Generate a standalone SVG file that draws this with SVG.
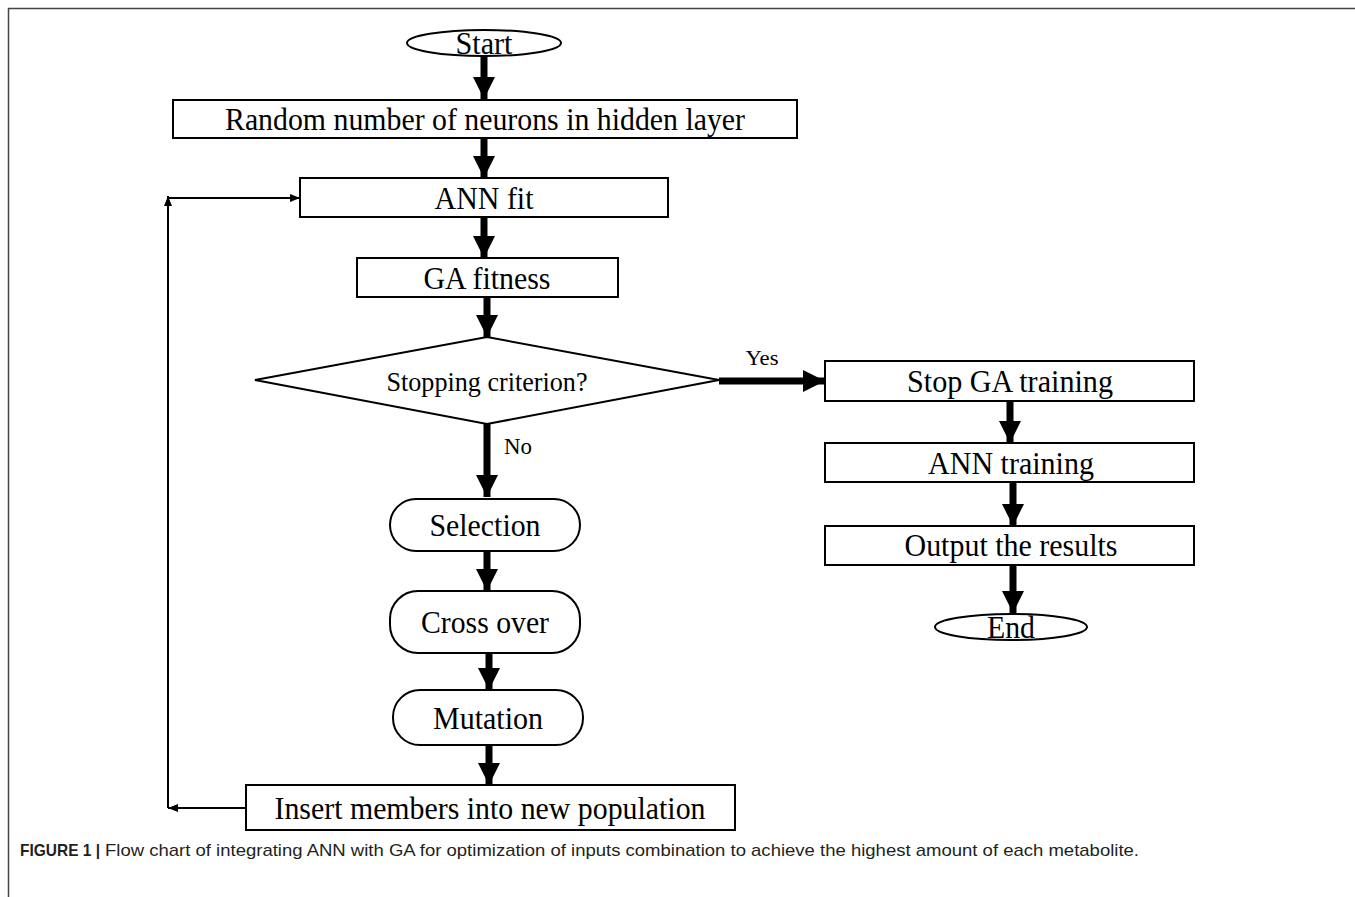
<svg xmlns="http://www.w3.org/2000/svg" width="1355" height="897" viewBox="0 0 1355 897">
<style>
.box{fill:#fff;stroke:#000;stroke-width:2}
.t{font-family:"Liberation Serif","Times New Roman",serif;font-size:32px;fill:#000;text-anchor:middle}
.lbl{font-family:"Liberation Serif","Times New Roman",serif;fill:#000;text-anchor:middle}
.thick{stroke:#000;stroke-width:7;fill:none}
.thin{stroke:#000;stroke-width:2;fill:none}
.cap{font-family:"Liberation Sans",Arial,sans-serif;font-size:17px;fill:#231f20}
</style>
<defs>
<marker id="big" viewBox="0 0 22 22" refX="22" refY="11" markerWidth="22" markerHeight="22" markerUnits="userSpaceOnUse" orient="auto">
<path d="M0,0 L22,11 L0,22 z" fill="#000"/>
</marker>
<marker id="small" viewBox="0 0 10 8" refX="10" refY="4" markerWidth="10" markerHeight="8" markerUnits="userSpaceOnUse" orient="auto">
<path d="M0,0 L10,4 L0,8 z" fill="#000"/>
</marker>
</defs>
<rect width="1355" height="897" fill="#fff"/>
<path d="M8.5,897 V8.5 H1355" fill="none" stroke="#444" stroke-width="1.5"/>

<g id="start"><ellipse class="box" cx="484" cy="43" rx="77" ry="13"/><text class="t" x="484" y="54" textLength="57" lengthAdjust="spacingAndGlyphs">Start</text></g>
<g id="random"><rect class="box" x="173" y="100" width="624" height="38"/><text class="t" x="485" y="130" textLength="520" lengthAdjust="spacingAndGlyphs">Random number of neurons in hidden layer</text></g>
<g id="annfit"><rect class="box" x="300" y="178" width="368" height="39"/><text class="t" x="484" y="209" textLength="99" lengthAdjust="spacingAndGlyphs">ANN fit</text></g>
<g id="gafitness"><rect class="box" x="357" y="258" width="261" height="39"/><text class="t" x="487" y="289" textLength="127" lengthAdjust="spacingAndGlyphs">GA fitness</text></g>
<g id="stopping"><polygon class="box" points="255,380 487,337 719,380 487,424"/><text class="lbl" x="487" y="391" font-size="28" textLength="201" lengthAdjust="spacingAndGlyphs">Stopping criterion?</text></g>
<g id="stopga"><rect class="box" x="825" y="361" width="369" height="40"/><text class="t" x="1010" y="392" textLength="206" lengthAdjust="spacingAndGlyphs">Stop GA training</text></g>
<g id="anntraining"><rect class="box" x="825" y="443" width="369" height="39"/><text class="t" x="1011" y="474" textLength="166" lengthAdjust="spacingAndGlyphs">ANN training</text></g>
<g id="output"><rect class="box" x="825" y="526" width="369" height="39"/><text class="t" x="1011" y="556" textLength="213" lengthAdjust="spacingAndGlyphs">Output the results</text></g>
<g id="end"><ellipse class="box" cx="1011" cy="627" rx="76" ry="13"/><text class="t" x="1011" y="638" textLength="48" lengthAdjust="spacingAndGlyphs">End</text></g>
<g id="selection"><rect class="box" x="390" y="499" width="190" height="52" rx="26" ry="26"/><text class="t" x="485" y="536" textLength="111" lengthAdjust="spacingAndGlyphs">Selection</text></g>
<g id="crossover"><rect class="box" x="390" y="591" width="190" height="62" rx="28" ry="28"/><text class="t" x="485" y="633" textLength="128" lengthAdjust="spacingAndGlyphs">Cross over</text></g>
<g id="mutation"><rect class="box" x="393" y="690" width="190" height="55" rx="27" ry="27"/><text class="t" x="488" y="729" textLength="110" lengthAdjust="spacingAndGlyphs">Mutation</text></g>
<g id="insert"><rect class="box" x="246" y="785" width="489" height="45"/><text class="t" x="490" y="819" textLength="431" lengthAdjust="spacingAndGlyphs">Insert members into new population</text></g>

<g id="connectors">
<path class="thick" d="M484,56 V99" marker-end="url(#big)"/>
<path class="thick" d="M484,138 V178" marker-end="url(#big)"/>
<path class="thick" d="M484,217 V258" marker-end="url(#big)"/>
<path class="thick" d="M487,297 V337" marker-end="url(#big)"/>
<path class="thick" d="M719,381 H825" marker-end="url(#big)"/>
<path class="thick" d="M487,424 V497" marker-end="url(#big)"/>
<path class="thick" d="M487,551 V591" marker-end="url(#big)"/>
<path class="thick" d="M489,653 V690" marker-end="url(#big)"/>
<path class="thick" d="M489,745 V785" marker-end="url(#big)"/>
<path class="thick" d="M1010,401 V443" marker-end="url(#big)"/>
<path class="thick" d="M1013,482 V526" marker-end="url(#big)"/>
<path class="thick" d="M1013,565 V613" marker-end="url(#big)"/>
<path class="thin" d="M246,808 H168" marker-end="url(#small)"/>
<path class="thin" d="M168,808 V196" marker-end="url(#small)"/>
<path class="thin" d="M168,198 H300" marker-end="url(#small)"/>
<text class="lbl" x="762" y="365" font-size="22" textLength="33" lengthAdjust="spacingAndGlyphs">Yes</text>
<text class="lbl" x="518" y="454" font-size="23" textLength="28" lengthAdjust="spacingAndGlyphs">No</text>
</g>

<text class="cap" x="20" y="856" font-weight="bold" textLength="80" lengthAdjust="spacingAndGlyphs">FIGURE 1 |</text>
<text class="cap" x="105" y="856" textLength="1034" lengthAdjust="spacingAndGlyphs">Flow chart of integrating ANN with GA for optimization of inputs combination to achieve the highest amount of each metabolite.</text>
</svg>
